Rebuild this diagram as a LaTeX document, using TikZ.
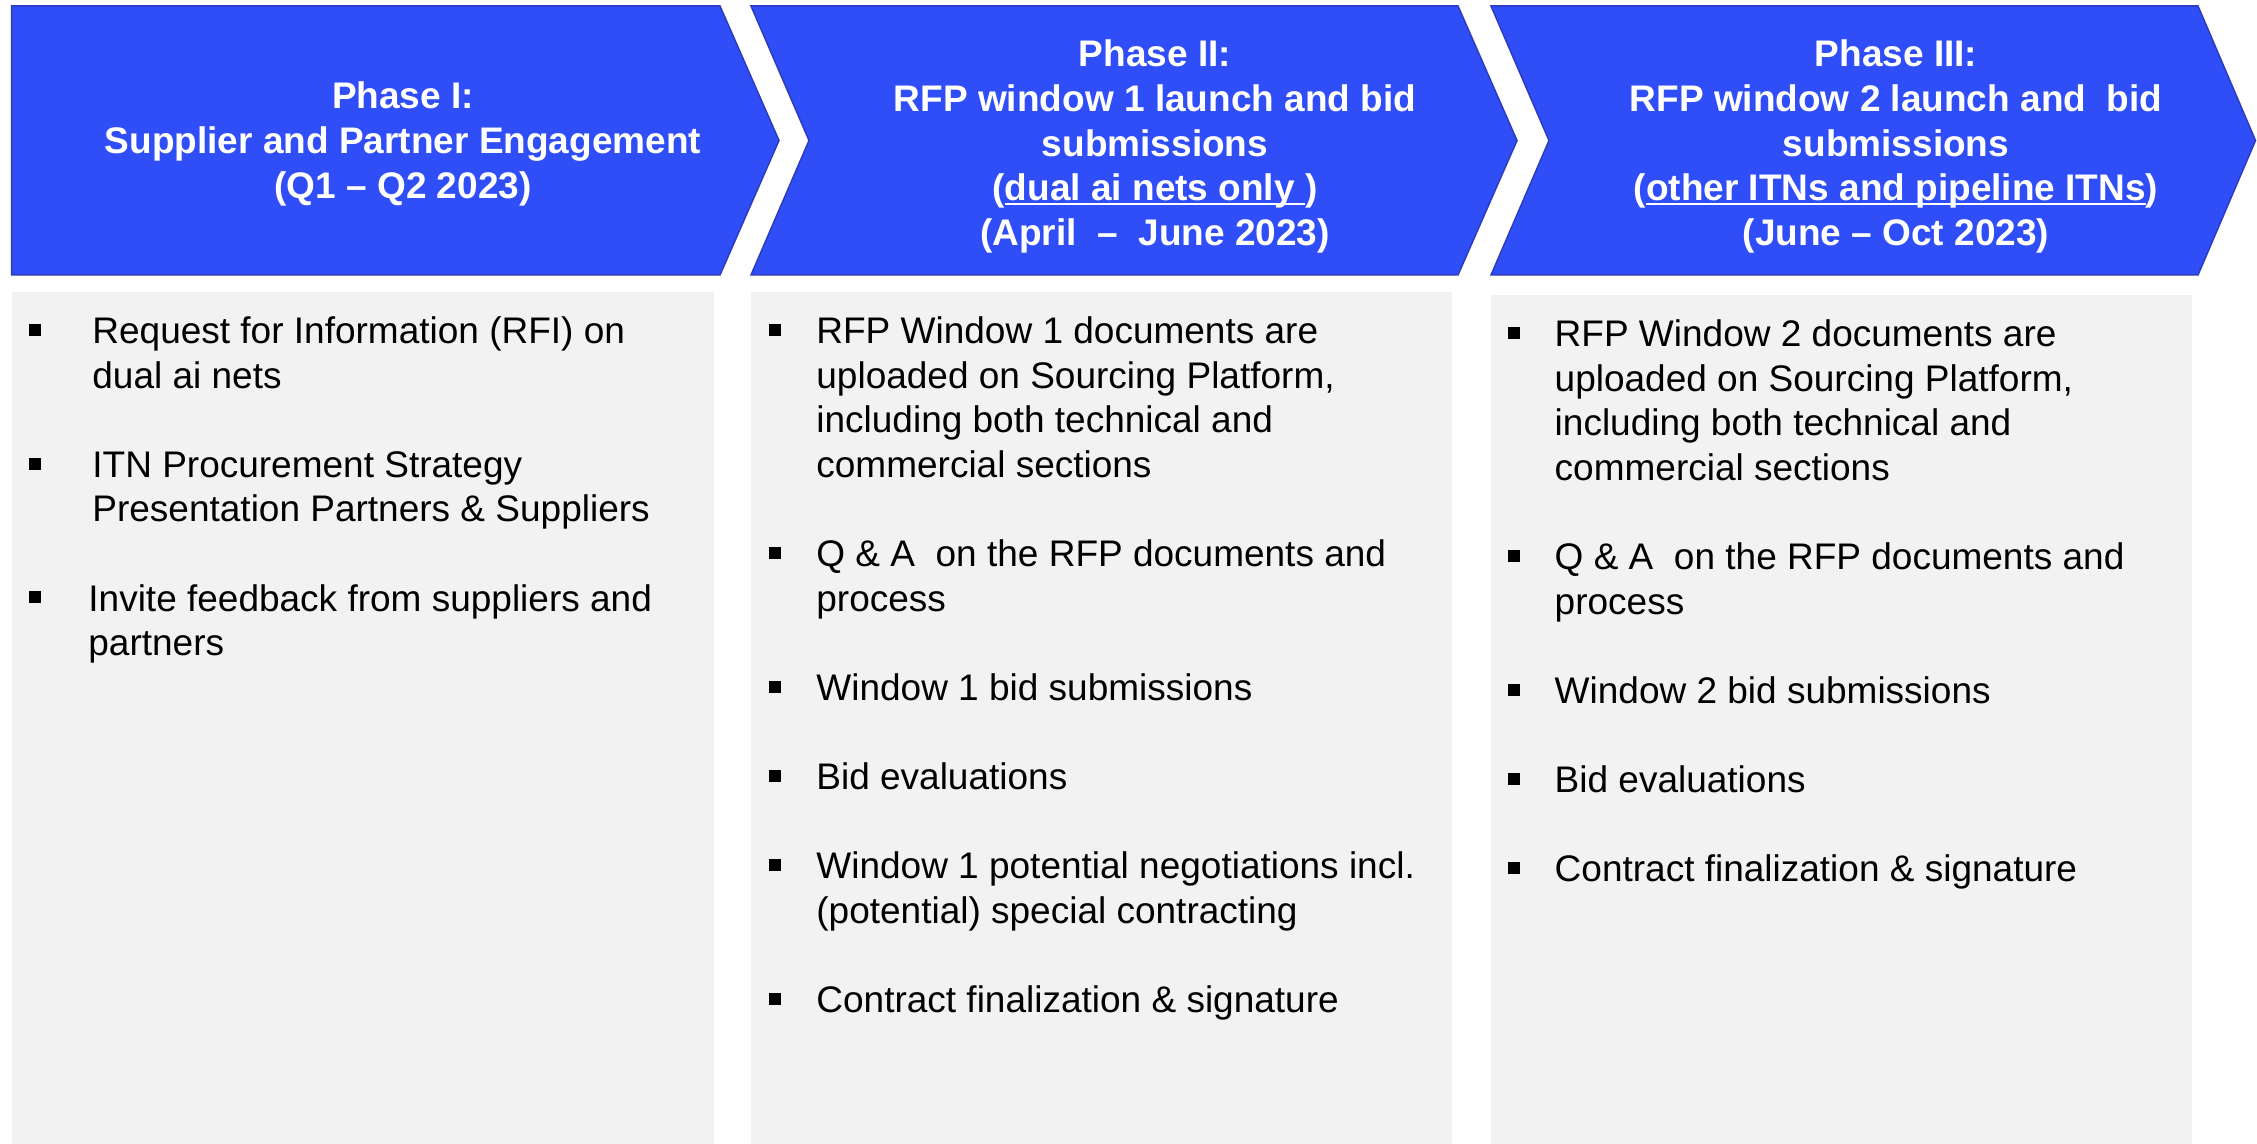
\documentclass[tikz,border=0pt]{standalone}
\usepackage{fontspec}
\setmainfont{Liberation Sans}
\definecolor{chevblue}{RGB}{48,78,248}
\definecolor{chevedge}{RGB}{45,60,190}
\definecolor{boxgray}{RGB}{242,242,242}
\newsavebox\ulbox
\newcommand{\ulw}[1]{\sbox\ulbox{#1}\rlap{\rule[-2.2pt]{\wd\ulbox}{1.1pt}}\usebox\ulbox}
\newcommand{\itm}[1]{\rule{0pt}{16pt}\makebox[#1][l]{\rule[3.85pt]{6pt}{6pt}}}
\newcommand{\ind}[1]{\hspace*{#1}}
\begin{document}
\begin{tikzpicture}[x=0.5pt,y=-0.5pt,
  chev/.style={fill=chevblue,draw=chevedge,line width=0.75pt,line join=miter},
  panel/.style={fill=boxgray,draw=none},
  head/.style={anchor=north,inner sep=0pt,align=center,text=white,
    font=\fontsize{18.5}{22.3}\selectfont\bfseries},
  body/.style={anchor=north west,inner sep=0pt,align=left,text=black,
    font=\fontsize{18.5}{22.3}\selectfont}
]
\useasboundingbox (0,0) rectangle (2257,1144);

% chevrons
\draw[chev] (11.5,6) -- (720,6) -- (779,140.5) -- (720,275) -- (11.5,275) -- cycle;
\draw[chev] (751,6) -- (1458,6) -- (1517,140.5) -- (1458,275) -- (751,275) -- (809,140.5) -- cycle;
\draw[chev] (1491,6) -- (2198,6) -- (2255.5,140.5) -- (2198,275) -- (1491,275) -- (1549,140.5) -- cycle;

% panels
\fill[panel] (12,292) rectangle (714,1144);
\fill[panel] (751,292) rectangle (1452,1144);
\fill[panel] (1491,295) rectangle (2192,1144);

% headers
\node[head] (h1) at (403,76.5) {\rule{0pt}{16pt}Phase I:\\
  Supplier and Partner Engagement\\
  (Q1 – Q2 2023)};
\node[head] (h2) at (1155,34.6) {\rule{0pt}{16pt}Phase II:\\
  RFP window 1 launch and bid\\
  submissions\\
  (\ulw{dual ai nets only\ })\\
  (April~~–~~June 2023)};
\node[head] (h3) at (1896,34.6) {\rule{0pt}{16pt}Phase III:\\
  RFP window 2 launch and~~bid\\
  submissions\\
  (\ulw{other ITNs and pipeline ITNs})\\
  (June – Oct 2023)};

% bodies
\node[body] (b1) at (29,311) {%
  \itm{31.5pt}Request for Information (RFI) on\\
  \ind{31.5pt}dual ai nets\\[22.3pt]
  \itm{31.5pt}ITN Procurement Strategy\\
  \ind{31.5pt}Presentation Partners \& Suppliers\\[22.3pt]
  \itm{29.5pt}Invite feedback from suppliers and\\
  \ind{29.5pt}partners};

\node[body] (b2) at (768.5,311) {%
  \itm{23.75pt}RFP Window 1 documents are\\
  \ind{23.75pt}uploaded on Sourcing Platform,\\
  \ind{23.75pt}including both technical and\\
  \ind{23.75pt}commercial sections\\[22.3pt]
  \itm{23.75pt}Q \& A~ on the RFP documents and\\
  \ind{23.75pt}process\\[22.3pt]
  \itm{23.75pt}Window 1 bid submissions\\[22.3pt]
  \itm{23.75pt}Bid evaluations\\[22.3pt]
  \itm{23.75pt}Window 1 potential negotiations incl.\\
  \ind{23.75pt}(potential) special contracting\\[22.3pt]
  \itm{23.75pt}Contract finalization \& signature};

\node[body] (b3) at (1508,314) {%
  \itm{23.15pt}RFP Window 2 documents are\\
  \ind{23.15pt}uploaded on Sourcing Platform,\\
  \ind{23.15pt}including both technical and\\
  \ind{23.15pt}commercial sections\\[22.3pt]
  \itm{23.15pt}Q \& A~ on the RFP documents and\\
  \ind{23.15pt}process\\[22.3pt]
  \itm{23.15pt}Window 2 bid submissions\\[22.3pt]
  \itm{23.15pt}Bid evaluations\\[22.3pt]
  \itm{23.15pt}Contract finalization \& signature};
\end{tikzpicture}
\end{document}
